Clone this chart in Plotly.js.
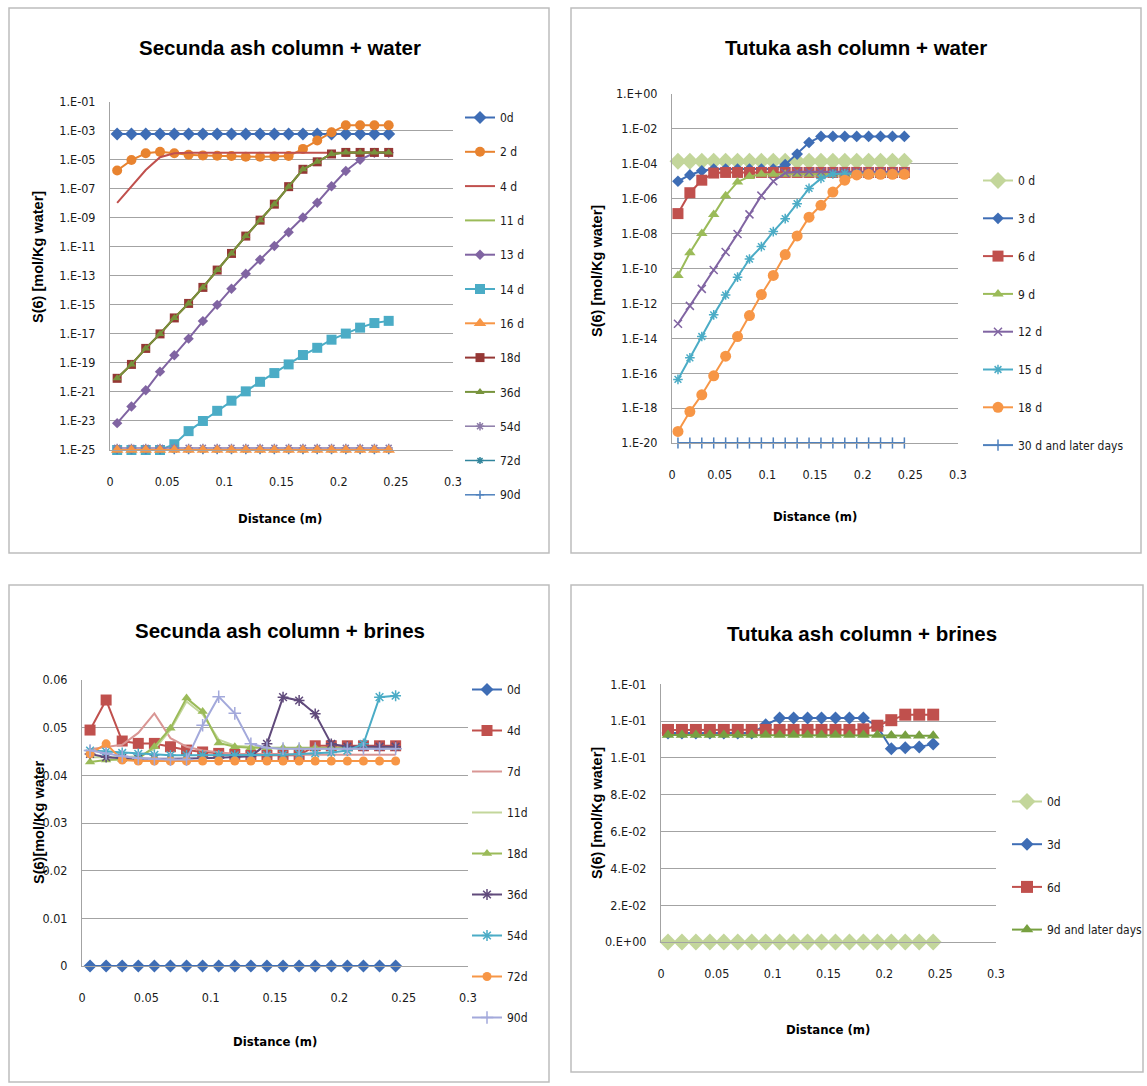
<!DOCTYPE html>
<html><head><meta charset="utf-8">
<script src="https://cdn.plot.ly/plotly-3.0.1.min.js"></script>
<style>html,body{margin:0;padding:0;background:#fff;overflow:hidden;} #chart{width:1147px;height:1086px;}</style>
</head><body><div id="chart"></div>
<script>
// ---------- shared x values (distance, m) ----------
const distance = [0.00625, 0.01875, 0.03125, 0.04375, 0.05625, 0.06875, 0.08125, 0.09375, 0.10625, 0.11875,
                  0.13125, 0.14375, 0.15625, 0.16875, 0.18125, 0.19375, 0.20625, 0.21875, 0.23125, 0.24375];
const distTicks = [0, 0.05, 0.1, 0.15, 0.2, 0.25, 0.3];
const distTickText = ['0', '0.05', '0.1', '0.15', '0.2', '0.25', '0.3'];

// ---------- Panel 1: Secunda ash column + water ----------
const secWaterNames = ['0d', '2 d', '4 d', '11 d', '13 d', '14 d', '16 d', '18d', '36d', '54d', '72d', '90d'];
const secWater0d  = [6e-4,6e-4,6e-4,6e-4,6e-4,6e-4,6e-4,6e-4,6e-4,6e-4,6e-4,6e-4,6e-4,6e-4,6e-4,6e-4,6e-4,6e-4,6e-4,6e-4];
const secWater2d  = [1.8e-6,9.5e-6,2.8e-5,3.5e-5,2.8e-5,2.2e-5,2.0e-5,1.9e-5,1.8e-5,1.6e-5,1.6e-5,1.7e-5,1.8e-5,5.6e-5,2.1e-4,7.8e-4,2.4e-3,2.4e-3,2.4e-3,2.4e-3];
const secWater4d  = [1.07e-8,1.4e-7,1.95e-6,1.5e-5,2.75e-5,3.0e-5,3.0e-5,3.0e-5,3.0e-5,3.0e-5,3.0e-5,3.0e-5,3.0e-5,3.0e-5,3.0e-5,3.0e-5,3.0e-5,3.0e-5,3.0e-5,3.0e-5];
const secWater11d = [8.7e-21,7.9e-20,1.0e-18,1.0e-17,1.26e-16,1.26e-15,1.6e-14,2.5e-13,3.5e-12,5.5e-11,6.9e-10,8.7e-9,1.4e-7,2.2e-6,7.2e-6,2.5e-5,3.2e-5,3.2e-5,3.2e-5,3.2e-5];
const secWater13d = [7.1e-24,1.0e-22,1.3e-21,2.5e-20,3.4e-19,4.7e-18,7.6e-17,1.0e-15,1.3e-14,1.4e-13,1.3e-12,1.15e-11,1.0e-10,1.05e-9,1.1e-8,1.5e-7,1.66e-6,1.0e-5,3.0e-5,3.0e-5];
const secWater14d = [1e-25,1e-25,1e-25,1e-25,2.5e-25,2.0e-24,1.0e-23,5.0e-23,2.5e-22,1.1e-21,5.0e-21,2.0e-20,7.9e-20,3.5e-19,1.1e-18,4.0e-18,1.05e-17,2.7e-17,5.6e-17,7.9e-17];
const secWater16d = [1e-25,1e-25,1e-25,1e-25,1e-25,1e-25,1e-25,1e-25,1e-25,1e-25,1e-25,1e-25,1e-25,1e-25,1e-25,1e-25,1e-25,1e-25,1e-25,1e-25];
const secWater18d = [8.7e-21,7.9e-20,1.0e-18,1.0e-17,1.26e-16,1.26e-15,1.6e-14,2.5e-13,3.5e-12,5.5e-11,6.9e-10,8.7e-9,1.4e-7,2.2e-6,7.2e-6,2.5e-5,3.2e-5,3.2e-5,3.2e-5,3.2e-5];
const secWater36d = [8.7e-21,7.9e-20,1.0e-18,1.0e-17,1.26e-16,1.26e-15,1.6e-14,2.5e-13,3.5e-12,5.5e-11,6.9e-10,8.7e-9,1.4e-7,2.2e-6,7.2e-6,2.5e-5,3.2e-5,3.2e-5,3.2e-5,3.2e-5];
const secWater54d = [1.4e-25,1.4e-25,1.4e-25,1.4e-25,1.4e-25,1.4e-25,1.4e-25,1.4e-25,1.4e-25,1.4e-25,1.4e-25,1.4e-25,1.4e-25,1.4e-25,1.4e-25,1.4e-25,1.4e-25,1.4e-25,1.4e-25,1.4e-25];
const secWater72d = [1e-25,1e-25,1e-25,1e-25,1e-25,1e-25,1e-25,1e-25,1e-25,1e-25,1e-25,1e-25,1e-25,1e-25,1e-25,1e-25,1e-25,1e-25,1e-25,1e-25];
const secWater90d = [1e-25,1e-25,1e-25,1e-25,1e-25,1e-25,1e-25,1e-25,1e-25,1e-25,1e-25,1e-25,1e-25,1e-25,1e-25,1e-25,1e-25,1e-25,1e-25,1e-25];
const secWaterTicks = [1e-25,1e-23,1e-21,1e-19,1e-17,1e-15,1e-13,1e-11,1e-9,1e-7,1e-5,1e-3,1e-1];
const secWaterTickText = ['1.E-25','1.E-23','1.E-21','1.E-19','1.E-17','1.E-15','1.E-13','1.E-11','1.E-09','1.E-07','1.E-05','1.E-03','1.E-01'];

// ---------- Panel 2: Tutuka ash column + water ----------
const tutWaterNames = ['0 d', '3 d', '6 d', '9 d', '12 d', '15 d', '18 d', '30 d and later days'];
const tutWater0d  = [1.4e-4,1.4e-4,1.4e-4,1.4e-4,1.4e-4,1.4e-4,1.4e-4,1.4e-4,1.4e-4,1.4e-4,1.4e-4,1.4e-4,1.4e-4,1.4e-4,1.4e-4,1.4e-4,1.4e-4,1.4e-4,1.4e-4,1.4e-4];
const tutWater3d  = [1.0e-5,2.3e-5,4.0e-5,5.0e-5,5.0e-5,5.0e-5,5.0e-5,5.0e-5,5.0e-5,8.9e-5,3.6e-4,1.66e-3,3.7e-3,3.7e-3,3.7e-3,3.7e-3,3.7e-3,3.7e-3,3.7e-3,3.7e-3];
const tutWater6d  = [1.4e-7,2.2e-6,1.15e-5,2.95e-5,3.2e-5,3.2e-5,3.2e-5,3.2e-5,3.2e-5,3.2e-5,3.2e-5,3.2e-5,3.2e-5,3.2e-5,3.2e-5,3.2e-5,3.2e-5,3.2e-5,3.2e-5,3.2e-5];
const tutWater9d  = [4.0e-11,7.9e-10,1.0e-8,1.26e-7,1.5e-6,9.1e-6,1.86e-5,2.5e-5,2.5e-5,2.5e-5,2.5e-5,2.5e-5,2.5e-5,2.5e-5,2.5e-5,2.5e-5,2.5e-5,2.5e-5,2.5e-5,2.5e-5];
const tutWater12d = [6.8e-14,7.2e-13,6.8e-12,8.3e-11,8.9e-10,9.5e-9,1.26e-7,1.5e-6,1.0e-5,2.95e-5,3.5e-5,3.5e-5,3.5e-5,3.5e-5,3.5e-5,3.5e-5,3.5e-5,3.5e-5,3.5e-5,3.5e-5];
const tutWater15d = [4.4e-17,7.6e-16,1.26e-14,2.2e-13,3.0e-12,3.2e-11,3.5e-10,1.8e-9,1.3e-8,7.2e-8,5.2e-7,3.9e-6,1.45e-5,2.6e-5,2.8e-5,2.8e-5,2.8e-5,2.8e-5,2.8e-5,2.8e-5];
const tutWater18d = [4.6e-20,6.3e-19,5.8e-18,7.1e-17,9.5e-16,1.26e-14,2.0e-13,3.2e-12,4.0e-11,6.3e-10,7.4e-9,8.7e-8,4.2e-7,2.4e-6,1.15e-5,2.3e-5,2.5e-5,2.5e-5,2.5e-5,2.5e-5];
const tutWater30d = [1e-20,1e-20,1e-20,1e-20,1e-20,1e-20,1e-20,1e-20,1e-20,1e-20,1e-20,1e-20,1e-20,1e-20,1e-20,1e-20,1e-20,1e-20,1e-20,1e-20];
const tutWaterTicks = [1e-20,1e-18,1e-16,1e-14,1e-12,1e-10,1e-8,1e-6,1e-4,1e-2,1];
const tutWaterTickText = ['1.E-20','1.E-18','1.E-16','1.E-14','1.E-12','1.E-10','1.E-08','1.E-06','1.E-04','1.E-02','1.E+00'];

// ---------- Panel 3: Secunda ash column + brines ----------
const secBrineNames = ['0d', '4d', '7d', '11d', '18d', '36d', '54d', '72d', '90d'];
const secBrine0d  = [0,0,0,0,0,0,0,0,0,0,0,0,0,0,0,0,0,0,0,0];
const secBrine4d  = [0.0495,0.0558,0.0472,0.0467,0.0467,0.0460,0.0453,0.0449,0.0446,0.0444,0.0442,0.0442,0.0442,0.0442,0.0462,0.0462,0.0462,0.0462,0.0462,0.0462];
const secBrine7d  = [0.0455,0.0460,0.0464,0.0489,0.0530,0.0478,0.0460,0.0452,0.0448,0.0445,0.0445,0.0445,0.0445,0.0443,0.0443,0.0443,0.0443,0.0443,0.0443,0.0443];
const secBrine11d = [0.0438,0.0438,0.0438,0.0440,0.0455,0.0495,0.0555,0.0528,0.0475,0.0462,0.0460,0.0458,0.0456,0.0456,0.0456,0.0456,0.0456,0.0456,0.0456,0.0456];
const secBrine18d = [0.0428,0.0432,0.0433,0.0435,0.0460,0.0499,0.0562,0.0534,0.0468,0.0460,0.0458,0.0458,0.0458,0.0458,0.0458,0.0458,0.0458,0.0458,0.0458,0.0458];
const secBrine36d = [0.0445,0.0438,0.0436,0.0435,0.0435,0.0435,0.0435,0.0436,0.0437,0.0438,0.0440,0.0466,0.0564,0.0557,0.0529,0.0466,0.0460,0.0460,0.0460,0.0460];
const secBrine54d = [0.0452,0.0450,0.0447,0.0445,0.0443,0.0442,0.0442,0.0442,0.0442,0.0442,0.0442,0.0442,0.0443,0.0445,0.0446,0.0448,0.0452,0.0466,0.0564,0.0567];
const secBrine72d = [0.0445,0.0466,0.0432,0.0430,0.0430,0.0430,0.0430,0.0430,0.0430,0.0430,0.0430,0.0430,0.0430,0.0430,0.0430,0.0430,0.0430,0.0430,0.0430,0.0430];
const secBrine90d = [0.0452,0.0446,0.0440,0.0436,0.0434,0.0433,0.0433,0.0505,0.0565,0.0530,0.0466,0.0458,0.0456,0.0456,0.0456,0.0456,0.0456,0.0456,0.0456,0.0456];
const secBrineTicks = [0, 0.01, 0.02, 0.03, 0.04, 0.05, 0.06];
const secBrineTickText = ['0', '0.01', '0.02', '0.03', '0.04', '0.05', '0.06'];

// ---------- Panel 4: Tutuka ash column + brines ----------
const tutBrineNames = ['0d', '3d', '6d', '9d and later days'];
const tutBrine0d = [0,0,0,0,0,0,0,0,0,0,0,0,0,0,0,0,0,0,0,0];
const tutBrine3d = [0.1135,0.1135,0.1135,0.1135,0.1135,0.1135,0.1135,0.1180,0.1217,0.1217,0.1217,0.1217,0.1217,0.1217,0.1217,0.1171,0.1050,0.1055,0.1060,0.1075];
const tutBrine6d = [0.1152,0.1152,0.1152,0.1152,0.1152,0.1152,0.1152,0.1152,0.1152,0.1152,0.1152,0.1152,0.1152,0.1152,0.1155,0.1175,0.1205,0.1235,0.1235,0.1235];
const tutBrine9d = [0.1125,0.1125,0.1125,0.1125,0.1125,0.1125,0.1125,0.1125,0.1125,0.1125,0.1125,0.1125,0.1125,0.1125,0.1125,0.1125,0.1122,0.1120,0.1120,0.1120];
const tutBrineTicks = [0, 0.02, 0.04, 0.06, 0.08, 0.10, 0.12, 0.14];
const tutBrineTickText = ['0.E+00','2.E-02','4.E-02','6.E-02','8.E-02','1.E-01','1.E-01','1.E-01'];

// ---------- styling ----------
const W = 1147, H = 1086;
const px = v => v / W;
const py = v => 1 - v / H;
const NARROW = "'Liberation Sans Narrow', 'DejaVu Sans Condensed', 'Liberation Sans', sans-serif";
const SANS = "'Liberation Sans', Arial, sans-serif";
const GRID = '#a3a3a3';

function trace(name, y, ax, leg, color, symbol, size, opts) {
  opts = opts || {};
  const open = symbol.indexOf('-open') >= 0;
  const t = {
    type: 'scatter', mode: symbol === 'none' ? 'lines' : 'lines+markers',
    name: name, x: distance, y: y,
    xaxis: 'x' + ax, yaxis: 'y' + ax,
    legend: leg, legendgroup: leg + name, legendrank: opts.rank,
    cliponaxis: false,
    line: {color: color, width: opts.lw || 2},
    showlegend: true
  };
  if (symbol !== 'none') {
    t.marker = {symbol: symbol, size: size, color: color,
                line: {color: color, width: open ? 1.5 : 0}};
  }
  return t;
}

const traces = [];
// Panel 1
const p1Style = [
  ['#3E6DB5','diamond',10,2], ['#E8832F','circle',10,2], ['#C0504D','none',0,2], ['#9BBB59','none',0,2],
  ['#8064A2','diamond',8,2], ['#4BACC6','square',10,2], ['#F79646','triangle-up',11,2], ['#953735','square',9,2],
  ['#77933C','triangle-up',8,2], ['#8C7BA8','asterisk-open',7,1.5], ['#31859C','asterisk-open',6,1.5], ['#4F81BD','cross-thin-open',6,1.5]
];
const p1Data = [secWater0d, secWater2d, secWater4d, secWater11d, secWater13d, secWater14d, secWater16d,
                secWater18d, secWater36d, secWater54d, secWater72d, secWater90d];
const p1Order = [0,1,2,3,4,5,7,8,10,11,9,6];
p1Order.forEach(i => {
  const s = p1Style[i];
  traces.push(trace(secWaterNames[i], p1Data[i], '', 'legend', s[0], s[1], s[2], {rank: (i + 1) * 10, lw: s[3]}));
});
// Panel 2
const p2Style = [
  ['#C3D69B','diamond',13], ['#3E6DB5','diamond',9], ['#C0504D','square',11], ['#9BBB59','triangle-up',10],
  ['#8064A2','x-thin-open',8], ['#4BACC6','asterisk-open',8], ['#F79646','circle',11], ['#4F81BD','line-ns-open',8]
];
const p2Data = [tutWater0d, tutWater3d, tutWater6d, tutWater9d, tutWater12d, tutWater15d, tutWater18d, tutWater30d];
p2Data.forEach((d, i) => {
  const s = p2Style[i];
  traces.push(trace(tutWaterNames[i], d, '2', 'legend2', s[0], s[1], s[2], {rank: (i + 1) * 10}));
});
// Panel 3
const p3Style = [
  ['#3E6DB5','diamond',10], ['#C0504D','square',11], ['#D99694','none',0], ['#C3D69B','none',0],
  ['#9BBB59','triangle-up',9], ['#604A7B','asterisk-open',9], ['#4BACC6','asterisk-open',9],
  ['#F79646','circle',9], ['#A3A9DB','cross-thin-open',9]
];
const p3Data = [secBrine0d, secBrine4d, secBrine7d, secBrine11d, secBrine18d, secBrine36d, secBrine54d, secBrine72d, secBrine90d];
p3Data.forEach((d, i) => {
  const s = p3Style[i];
  traces.push(trace(secBrineNames[i], d, '3', 'legend3', s[0], s[1], s[2], {rank: (i + 1) * 10}));
});
// Panel 4
const p4Style = [['#C3D69B','diamond',13], ['#3E6DB5','diamond',10], ['#C0504D','square',12], ['#77A040','triangle-up',11]];
const p4Data = [tutBrine0d, tutBrine3d, tutBrine6d, tutBrine9d];
p4Data.forEach((d, i) => {
  const s = p4Style[i];
  traces.push(trace(tutBrineNames[i], d, '4', 'legend4', s[0], s[1], s[2], {rank: (i + 1) * 10}));
});

const tickFont = {family: NARROW, size: 12.5, color: '#1a1a1a'};
function xAxis(x0, x1, anchor) {
  return {domain: [px(x0), px(x1)], anchor: anchor, range: [0, 0.3], tickvals: distTicks, ticktext: distTickText,
          showgrid: false, zeroline: false, showline: true, linecolor: GRID, linewidth: 1,
          ticks: '', ticklabelstandoff: 20, tickfont: tickFont, fixedrange: true, automargin: false};
}
function yAxis(y0, y1, anchor, extra) {
  return Object.assign({domain: [py(y1), py(y0)], anchor: anchor, showgrid: true, gridcolor: GRID, gridwidth: 1,
          zeroline: false, showline: true, linecolor: GRID, linewidth: 1, ticks: '', ticklabelstandoff: 11,
          tickfont: tickFont, fixedrange: true, automargin: false}, extra);
}

function legendBox(x, yTop, gap) {
  return {x: px(x), y: py(yTop), xanchor: 'left', yanchor: 'top', bgcolor: 'rgba(0,0,0,0)', borderwidth: 0,
          font: {family: NARROW, size: 12, color: '#1a1a1a'}, traceorder: 'grouped', tracegroupgap: gap,
          itemwidth: 30};
}

function ann(text, x, y, size, opts) {
  opts = opts || {};
  return Object.assign({text: text, x: px(x), y: py(y), xref: 'paper', yref: 'paper', showarrow: false,
          xanchor: 'center', yanchor: 'middle',
          font: {family: opts.family || SANS, size: size, color: '#000', weight: opts.weight || 400}}, opts.extra || {});
}

const boxLine = {color: '#bdbdbd', width: 1.5};
const layout = {
  width: W, height: H, margin: {l: 0, r: 0, t: 0, b: 0, autoexpand: false},
  paper_bgcolor: '#fff', plot_bgcolor: 'rgba(0,0,0,0)',
  xaxis: xAxis(110, 453, 'y'),
  yaxis: yAxis(101.7, 450, 'x', {type: 'log', range: [-25, -1], tickvals: secWaterTicks, ticktext: secWaterTickText}),
  xaxis2: xAxis(672, 958, 'y2'),
  yaxis2: yAxis(94, 443, 'x2', {type: 'log', range: [-20, 0], tickvals: tutWaterTicks, ticktext: tutWaterTickText}),
  xaxis3: xAxis(82, 468, 'y3'),
  yaxis3: yAxis(680, 966, 'x3', {range: [0, 0.06], tickvals: secBrineTicks, ticktext: secBrineTickText}),
  xaxis4: xAxis(661, 996, 'y4'),
  yaxis4: yAxis(684.3, 942, 'x4', {range: [0, 0.14], tickvals: tutBrineTicks, ticktext: tutBrineTickText}),
  legend: legendBox(460, 103, 15.3),
  legend2: legendBox(978, 166, 18.8),
  legend3: legendBox(467, 675, 22),
  legend4: legendBox(1007, 787, 23.7),
  shapes: [
    {type: 'rect', xref: 'paper', yref: 'paper', x0: px(9), x1: px(549), y0: py(8), y1: py(553), line: boxLine, layer: 'below'},
    {type: 'rect', xref: 'paper', yref: 'paper', x0: px(571), x1: px(1141), y0: py(8), y1: py(553), line: boxLine, layer: 'below'},
    {type: 'rect', xref: 'paper', yref: 'paper', x0: px(9), x1: px(549), y0: py(585), y1: py(1082), line: boxLine, layer: 'below'},
    {type: 'rect', xref: 'paper', yref: 'paper', x0: px(571), x1: px(1143), y0: py(585), y1: py(1072), line: boxLine, layer: 'below'}
  ],
  annotations: [
    ann('Secunda ash column + water', 280, 47, 20.5, {weight: 700}),
    ann('Tutuka ash column + water', 856, 47, 20.5, {weight: 700}),
    ann('Secunda ash column + brines', 280, 630, 20.5, {weight: 700}),
    ann('Tutuka ash column + brines', 862, 633, 20.5, {weight: 700}),
    ann('Distance (m)', 280, 518, 13, {family: NARROW, weight: 700}),
    ann('Distance (m)', 815, 516, 13, {family: NARROW, weight: 700}),
    ann('Distance (m)', 275, 1041, 13, {family: NARROW, weight: 700}),
    ann('Distance (m)', 828, 1029, 13, {family: NARROW, weight: 700}),
    ann('S(6) [mol/Kg water]', 38, 257, 14.5, {weight: 700, extra: {textangle: -90}}),
    ann('S(6) [mol/Kg water]', 597, 271, 14.5, {weight: 700, extra: {textangle: -90}}),
    ann('S(6)[mol/Kg water', 39, 822, 14.5, {weight: 700, extra: {textangle: -90}}),
    ann('S(6) [mol/Kg water]', 597, 813, 14.5, {weight: 700, extra: {textangle: -90}})
  ]
};

Plotly.newPlot('chart', traces, layout, {displayModeBar: false, staticPlot: true});
</script>
</body></html>
